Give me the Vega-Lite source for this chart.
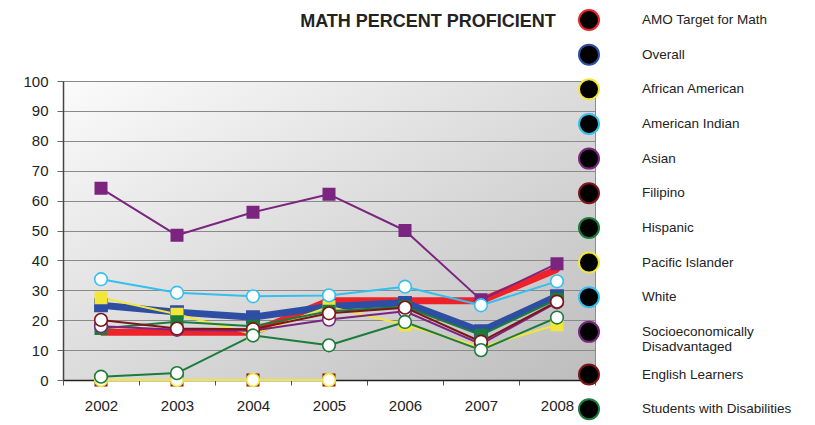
{
  "$schema": "https://vega.github.io/schema/vega-lite/v6.json",
  "width": 532,
  "height": 299,
  "autosize": {"type": "none"},
  "padding": {"left": 63, "top": 81, "right": 220, "bottom": 45},
  "background": "#ffffff",
  "title": {
    "text": "MATH PERCENT PROFICIENT",
    "font": "Liberation Sans",
    "fontSize": 18,
    "fontWeight": "bold",
    "color": "#222222",
    "anchor": "middle",
    "frame": "group",
    "baseline": "alphabetic",
    "offset": -37,
    "dx": 99
  },
  "config": {
    "view": {
      "stroke": "#8c8c8c",
      "fill": {"gradient": "linear", "x1": 0, "y1": 0, "x2": 1, "y2": 1,
        "stops": [{"offset": 0, "color": "#fbfbfb"}, {"offset": 1, "color": "#bdbdbd"}]}
    },
    "axis": {"labelFont": "Liberation Sans", "labelFontSize": 15, "labelColor": "#222222", "title": null}
  },
  "data": {
    "values": [
      {"year": "2002", "series": "AMO Target for Math", "value": 16},
      {"year": "2003", "series": "AMO Target for Math", "value": 16},
      {"year": "2004", "series": "AMO Target for Math", "value": 16},
      {"year": "2005", "series": "AMO Target for Math", "value": 26.5},
      {"year": "2006", "series": "AMO Target for Math", "value": 26.5},
      {"year": "2007", "series": "AMO Target for Math", "value": 26.5},
      {"year": "2008", "series": "AMO Target for Math", "value": 37},
      {"year": "2002", "series": "Overall", "value": 25},
      {"year": "2003", "series": "Overall", "value": 22.7},
      {"year": "2004", "series": "Overall", "value": 21},
      {"year": "2005", "series": "Overall", "value": 24.6},
      {"year": "2006", "series": "Overall", "value": 25.8},
      {"year": "2007", "series": "Overall", "value": 16.3},
      {"year": "2008", "series": "Overall", "value": 28},
      {"year": "2002", "series": "African American", "value": 27.5},
      {"year": "2003", "series": "African American", "value": 22},
      {"year": "2004", "series": "African American", "value": 15.3},
      {"year": "2005", "series": "African American", "value": 24.5},
      {"year": "2006", "series": "African American", "value": 18.5},
      {"year": "2007", "series": "African American", "value": 11},
      {"year": "2008", "series": "African American", "value": 18.5},
      {"year": "2002", "series": "Asian", "value": 64.1},
      {"year": "2003", "series": "Asian", "value": 48.4},
      {"year": "2004", "series": "Asian", "value": 56.1},
      {"year": "2005", "series": "Asian", "value": 62.1},
      {"year": "2006", "series": "Asian", "value": 50},
      {"year": "2007", "series": "Asian", "value": 26.8},
      {"year": "2008", "series": "Asian", "value": 38.9},
      {"year": "2002", "series": "Filipino", "value": 0},
      {"year": "2003", "series": "Filipino", "value": 0},
      {"year": "2004", "series": "Filipino", "value": 0},
      {"year": "2005", "series": "Filipino", "value": 0},
      {"year": "2002", "series": "Hispanic", "value": 17.2},
      {"year": "2003", "series": "Hispanic", "value": 19.5},
      {"year": "2004", "series": "Hispanic", "value": 18},
      {"year": "2005", "series": "Hispanic", "value": 23},
      {"year": "2006", "series": "Hispanic", "value": 24.5},
      {"year": "2007", "series": "Hispanic", "value": 15},
      {"year": "2008", "series": "Hispanic", "value": 27},
      {"year": "2002", "series": "Pacific Islander", "value": 0},
      {"year": "2003", "series": "Pacific Islander", "value": 0},
      {"year": "2004", "series": "Pacific Islander", "value": 0},
      {"year": "2005", "series": "Pacific Islander", "value": 0},
      {"year": "2002", "series": "White", "value": 33.7},
      {"year": "2003", "series": "White", "value": 29.2},
      {"year": "2004", "series": "White", "value": 28},
      {"year": "2005", "series": "White", "value": 28.3},
      {"year": "2006", "series": "White", "value": 31.2},
      {"year": "2007", "series": "White", "value": 25},
      {"year": "2008", "series": "White", "value": 33},
      {"year": "2002", "series": "Socioeconomically Disadvantaged", "value": 18},
      {"year": "2003", "series": "Socioeconomically Disadvantaged", "value": 16.8},
      {"year": "2004", "series": "Socioeconomically Disadvantaged", "value": 16.5},
      {"year": "2005", "series": "Socioeconomically Disadvantaged", "value": 20.2},
      {"year": "2006", "series": "Socioeconomically Disadvantaged", "value": 23},
      {"year": "2007", "series": "Socioeconomically Disadvantaged", "value": 12},
      {"year": "2008", "series": "Socioeconomically Disadvantaged", "value": 26},
      {"year": "2002", "series": "English Learners", "value": 20.1},
      {"year": "2003", "series": "English Learners", "value": 17.2},
      {"year": "2004", "series": "English Learners", "value": 17},
      {"year": "2005", "series": "English Learners", "value": 22.3},
      {"year": "2006", "series": "English Learners", "value": 24.2},
      {"year": "2007", "series": "English Learners", "value": 12.8},
      {"year": "2008", "series": "English Learners", "value": 26.2},
      {"year": "2002", "series": "Students with Disabilities", "value": 1.1},
      {"year": "2003", "series": "Students with Disabilities", "value": 2.3},
      {"year": "2004", "series": "Students with Disabilities", "value": 14.9},
      {"year": "2005", "series": "Students with Disabilities", "value": 11.6},
      {"year": "2006", "series": "Students with Disabilities", "value": 19.4},
      {"year": "2007", "series": "Students with Disabilities", "value": 10},
      {"year": "2008", "series": "Students with Disabilities", "value": 20.9}
    ]
  },
  "encoding": {
    "x": {
      "field": "year", "type": "nominal",
      "scale": {"type": "band", "paddingInner": 0, "paddingOuter": 0},
      "axis": {"labelAngle": 0, "tickBand": "extent", "domainColor": "#222222", "domainWidth": 1.5, "tickColor": "#555555", "tickSize": 5, "labelPadding": 13, "grid": false}
    },
    "y": {
      "field": "value", "type": "quantitative",
      "scale": {"domain": [0, 100], "nice": false},
      "axis": {"values": [0,10,20,30,40,50,60,70,80,90,100], "domainColor": "#444444", "domainWidth": 1.5, "tickColor": "#666666", "tickSize": 6, "labelPadding": 9, "grid": true, "gridColor": "#8a8a8a", "gridWidth": 1.2}
    }
  },
  "layer": [
    {
      "mark": {"type": "line", "strokeJoin": "round"},
      "encoding": {
        "color": {
          "field": "series", "type": "nominal", "legend": null,
          "scale": {
            "domain": ["AMO Target for Math","Overall","African American","American Indian","Asian","Filipino","Hispanic","Pacific Islander","White","Socioeconomically Disadvantaged","English Learners","Students with Disabilities","_c"],
            "range": ["#ee2229","#2e4ea3","#f2e63a","#35bfee","#7b2580","#7e1519","#1b7c3c","#f2e63a","#35bfee","#7b2580","#7e1519","#1b7c3c","#000000"]
          }
        },
        "strokeWidth": {
          "field": "series", "type": "nominal", "legend": null,
          "scale": {
            "type": "ordinal",
            "domain": ["AMO Target for Math","Overall","African American","American Indian","Asian","Filipino","Hispanic","Pacific Islander","White","Socioeconomically Disadvantaged","English Learners","Students with Disabilities","_w"],
            "range": [7,7,2,2,2,2,2,2,2,2,2,2,1]
          }
        }
      }
    },
    {
      "mark": {"type": "point", "filled": true, "opacity": 1, "strokeWidth": 1.6},
      "encoding": {
        "stroke": {
          "field": "series", "type": "nominal",
          "scale": {
            "domain": ["AMO Target for Math","Overall","African American","American Indian","Asian","Filipino","Hispanic","Pacific Islander","White","Socioeconomically Disadvantaged","English Learners","Students with Disabilities"],
            "range": ["#ee2229","#2e4ea3","#f2e63a","#35bfee","#7b2580","#7e1519","#1b7c3c","#f2e63a","#35bfee","#7b2580","#7e1519","#1b7c3c"]
          },
          "legend": {
            "title": null, "orient": "none", "legendX": 514, "legendY": -73,
            "padding": 1, "rowPadding": 6.65,
            "symbolSize": 400, "symbolStrokeWidth": 2, "symbolOpacity": 1,
            "labelFont": "Liberation Sans", "labelFontSize": 13.5, "labelColor": "#222222", "labelOffset": 42, "labelLimit": 300,
            "labelExpr": "datum.label == 'Socioeconomically Disadvantaged' ? ['Socioeconomically','Disadvantaged'] : datum.label",
            "encode": {
              "legend": {"update": {
                "fill": {"value": {"gradient": "linear", "x1": 0, "y1": 0, "x2": 1, "y2": 0, "stops": [{"offset": 0, "color": "#b7b7b7"}, {"offset": 0.75, "color": "#f4f4f4"}, {"offset": 1, "color": "#ffffff"}]}},
                "stroke": {"value": "#111111"},
                "strokeWidth": {"value": 2.5}
              }},
              "symbols": {"update": {
                "shape": {"signal": "datum.value == 'AMO Target for Math' ? 'M0.9,0H4.9M3.1,0A0.2,0.2 0 1,1 2.7,0A0.2,0.2 0 1,1 3.1,0ZM23,0' : indexof(['Overall','African American','American Indian','Asian','Filipino','Hispanic'], datum.value) >= 0 ? 'M0.9,0H4.9M2.55,-0.35H3.25V0.35H2.55ZM23,0' : 'M0.9,0H2.6M3.2,0H4.9M3.2,0A0.3,0.3 0 1,1 2.6,0A0.3,0.3 0 1,1 3.2,0ZM23,0'"},
                "fill": {"signal": "indexof(['Pacific Islander','White','Socioeconomically Disadvantaged','English Learners','Students with Disabilities'], datum.value) >= 0 ? '#ffffff' : scale('stroke', datum.value)"},
                "stroke": {"signal": "scale('stroke', datum.value)"},
                "strokeWidth": {"value": 2},
                "size": {"value": 400},
                "opacity": {"value": 1}
              }}
            }
          }
        },
        "fill": {
          "field": "series", "type": "nominal",
          "scale": {
            "domain": ["AMO Target for Math","Overall","African American","American Indian","Asian","Filipino","Hispanic","Pacific Islander","White","Socioeconomically Disadvantaged","English Learners","Students with Disabilities","_f"],
            "range": ["#ee2229","#2e4ea3","#f2e63a","#35bfee","#7b2580","#7e1519","#1b7c3c","#ffffff","#ffffff","#ffffff","#ffffff","#ffffff","#000000"]
          },
          "legend": null
        },
        "shape": {
          "field": "series", "type": "nominal",
          "scale": {
            "domain": ["AMO Target for Math","Overall","African American","American Indian","Asian","Filipino","Hispanic","Pacific Islander","White","Socioeconomically Disadvantaged","English Learners","Students with Disabilities","_s"],
            "range": ["circle","square","square","square","square","square","square","circle","circle","circle","circle","circle","circle"]
          },
          "legend": null
        },
        "size": {
          "field": "series", "type": "nominal", "legend": null,
          "scale": {
            "type": "ordinal",
            "domain": ["AMO Target for Math","Overall","African American","American Indian","Asian","Filipino","Hispanic","Pacific Islander","White","Socioeconomically Disadvantaged","English Learners","Students with Disabilities","_z"],
            "range": [20,150,130,130,130,130,130,160,160,160,160,160,10]
          }
        }
      }
    }
  ]
}
